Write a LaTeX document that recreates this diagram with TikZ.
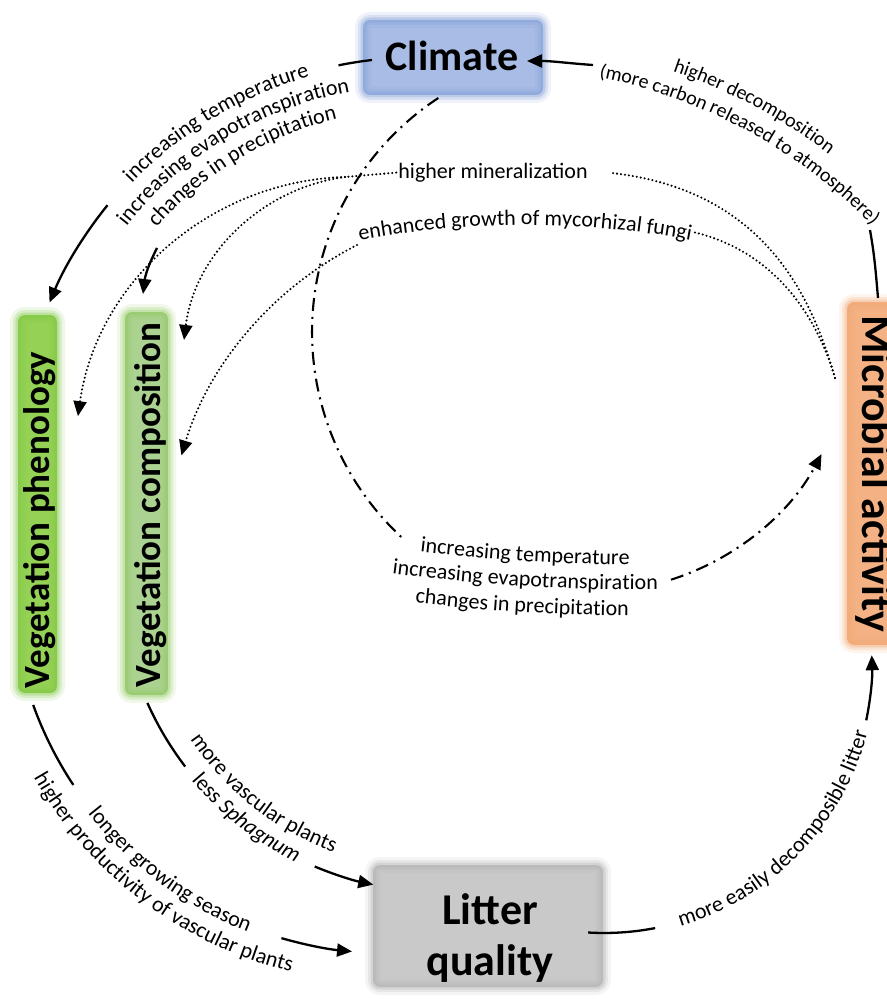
\documentclass[tikz,border=0pt]{standalone}
\usepackage{fontspec}
\setmainfont{Carlito}
\usetikzlibrary{arrows.meta,decorations.text}
\newcommand{\labfont}{\fontsize{22}{26}\selectfont}
\newcommand{\labfontsm}{\fontsize{20}{24}\selectfont}
\definecolor{climFill}{HTML}{A8BCE5}
\definecolor{climGlow}{HTML}{7E9CD6}
\definecolor{phenFill}{HTML}{94D155}
\definecolor{phenGlow}{HTML}{7FC843}
\definecolor{compFill}{HTML}{ABD290}
\definecolor{compGlow}{HTML}{8DC95A}
\definecolor{micFill}{HTML}{F4B183}
\definecolor{micGlow}{HTML}{F2A772}
\definecolor{litFill}{HTML}{C9C9C9}
\definecolor{litGlow}{HTML}{ADADAD}
\begin{document}
\begin{tikzpicture}[x=1pt,y=1pt,
  glowbox/.style n args={2}{rounded corners=7pt, inner sep=0pt,
    preaction={fill=#1},
    preaction={draw=#2, line width=16pt, opacity=0.12},
    preaction={draw=#2, line width=10pt, opacity=0.2},
    preaction={draw=#2, line width=5pt, opacity=0.3}},
  bigtxt/.style={font=\bfseries\fontsize{42}{50}\selectfont, inner sep=0pt, text=black},
  vtxt/.style={font=\bfseries\fontsize{37}{44}\selectfont, inner sep=0pt, text=black},
  lab/.style={font=\labfont, inner sep=2pt, text=black},
  conn/.style={line width=2.3pt, black},
  arr/.style={-{Triangle[length=15pt,width=13pt]}},
  dotl/.style={line width=2.3pt, dash pattern=on 0pt off 4pt, line cap=round, black},
  dashdot/.style={line width=2.1pt, dash pattern=on 13pt off 6pt on 2pt off 6pt, black},
  ptxt/.style={decorate, decoration={text along path, text align=center, text={|\labfont|#1}}},
  ptxts/.style={decorate, decoration={text along path, text align=center, text={|\labfontsm|#1}}}
]
\fill[white] (0,0) rectangle (886,-1000);
\useasboundingbox (0,0) rectangle (886,-1000);

% ---------- boxes ----------
\node[glowbox={climFill}{climGlow}, minimum width=180pt, minimum height=75pt] (clim) at (453,-57.5) {};
\node[glowbox={phenFill}{phenGlow}, minimum width=39pt, minimum height=378pt] (phen) at (37.5,-504) {};
\node[glowbox={compFill}{compGlow}, minimum width=43pt, minimum height=383pt] (comp) at (146.5,-503.5) {};
\node[glowbox={micFill}{micGlow}, minimum width=60pt, minimum height=343pt] (mic) at (877,-473.5) {};
\node[glowbox={litFill}{litGlow}, minimum width=230pt, minimum height=122pt] (lit) at (488,-926) {};

\node[bigtxt] (climT) at (452,-55.5) {Climate};
\node[vtxt, rotate=90] (phenT) at (40,-520) {Vegetation phenology};
\node[vtxt, rotate=90] (compT) at (151,-505) {Vegetation composition};
\node[bigtxt, font=\bfseries\fontsize{44}{52}\selectfont, rotate=-90] (micT) at (874,-474) {Microbial activity};
\node[bigtxt, font=\bfseries\fontsize{44}{51}\selectfont, align=center] (litT) at (490,-938) {Litter\\quality};

% ---------- Climate -> vegetation ----------
\coordinate (a1) at (372,-60);
\draw[conn] (a1) arc[start angle=96.6, end angle=101.5, radius=397];
\coordinate (a2) at (107.5,-205.2);
\draw[conn, arr] (a2) arc[start angle=141, end angle=157.4, radius=397];
\coordinate (a3) at (157,-248);
\coordinate (a3e) at (143,-294);
\draw[conn, arr] (a3) to[bend right=10] (a3e);
\path[ptxt={increasing temperature}] ([shift={(416,-455)}]152:393) arc[start angle=152, end angle=90, radius=393];
\path[ptxt={increasing evapotranspiration}] ([shift={(416,-455)}]154:369) arc[start angle=154, end angle=88, radius=369];
\path[ptxt={changes in precipitation}] ([shift={(416,-455)}]152:345) arc[start angle=152, end angle=90, radius=345];

% ---------- Climate -> microbial (dash-dot) ----------
\coordinate (c1) at (438.3,-98);
\draw[dashdot] (c1) arc[start angle=123.3, end angle=228, radius=280];
\coordinate (c2) at (671,-579.7);
\draw[dashdot, arr] (c2) arc[start angle=-72.3, end angle=-28, radius=260];
\path[ptxt={increasing temperature}] (375,-546.2) .. controls (475,-559.9) and (575,-566.1) .. (675,-564.8);
\path[ptxt={increasing evapotranspiration}] (375,-571.2) .. controls (475,-584.9) and (575,-591.1) .. (675,-589.8);
\path[ptxt={changes in precipitation}] (372,-597.2) .. controls (472,-610.9) and (572,-617.1) .. (672,-615.8);

% ---------- Microbial -> vegetation (dotted) ----------
\node[lab] (minT) at (493,-172.6) {higher mineralization};
\coordinate (micL) at (835,-378);
\coordinate (minR) at (612,-173);
\draw[dotl] (micL) .. controls (810,-290) and (760,-190) .. (minR);
\coordinate (ms) at (345,-177);
\draw[dotl] (minT.west) -- (ms);
\draw[dotl, arr] (ms) arc[start angle=91.7, end angle=172, radius=278];
\draw[dotl, arr] (ms) arc[start angle=97.7, end angle=173, radius=187.5];

\path[ptxt={enhanced growth of mycorhizal fungi}] ([shift={(525,-1135)}]102:910) arc[start angle=102, end angle=78, radius=910];
\coordinate (fuR) at (693,-232);
\draw[dotl] (micL) .. controls (815,-310) and (770,-250) .. (fuR);
\coordinate (fuL) at (357,-245);
\draw[dotl, arr] (fuL) arc[start angle=117.1, end angle=163.2, radius=350];

% ---------- Microbial -> Climate ----------
\path[ptxts={higher decomposition}] ([shift={(496,-592)}]85:550) arc[start angle=85, end angle=39, radius=550];
\path[ptxts={(more carbon released to atmosphere)}] ([shift={(496,-592)}]88:525) arc[start angle=88, end angle=35, radius=525];
\coordinate (b1) at (593,-65);
\coordinate (climE) at (527,-61);
\draw[conn, arr] (b1) to[out=176, in=0] (climE);
\coordinate (micTop) at (878,-298);
\coordinate (b2) at (870,-230);
\draw[conn] (micTop) to[out=95, in=-80] (b2);

% ---------- Phenology -> litter ----------
\coordinate (e1) at (33.2,-705);
\draw[conn] (e1) arc[start angle=199.8, end angle=213.5, radius=375];
\coordinate (e2) at (281.4,-938.1);
\draw[conn, arr] (e2) arc[start angle=253.8, end angle=264.8, radius=375];
\path[ptxt={longer growing season}] ([shift={(386,-578)}]205:380) arc[start angle=205, end angle=262, radius=380];
\path[ptxt={higher productivity of vascular plants}] ([shift={(386,-578)}]199:405) arc[start angle=199, end angle=267, radius=405];

% ---------- Composition -> litter ----------
\coordinate (f1) at (147.4,-702.9);
\draw[conn] (f1) arc[start angle=204, end angle=217.4, radius=317];
\coordinate (f2) at (314.7,-866.5);
\draw[conn, arr] (f2) arc[start angle=247.3, end angle=258.4, radius=317];
\path[ptxt={more vascular plants}] ([shift={(437,-574)}]203:297) arc[start angle=203, end angle=260.4, radius=297];
\path[ptxt={less |\labfont\itshape|Sphagnum}] ([shift={(437,-574)}]212:321) arc[start angle=212, end angle=252, radius=321];

% ---------- Litter -> microbial ----------
\coordinate (g1) at (588.1,-932.5);
\draw[conn] (g1) arc[start angle=-93.4, end angle=-79, radius=268];
\coordinate (g2) at (866.2,-720.3);
\draw[conn, arr] (g2) arc[start angle=-11.9, end angle=2.1, radius=268];
\path[ptxt={more easily decomposible litter}] ([shift={(604,-665)}]-85:272) arc[start angle=-85, end angle=-3, radius=272];
\end{tikzpicture}
\end{document}
